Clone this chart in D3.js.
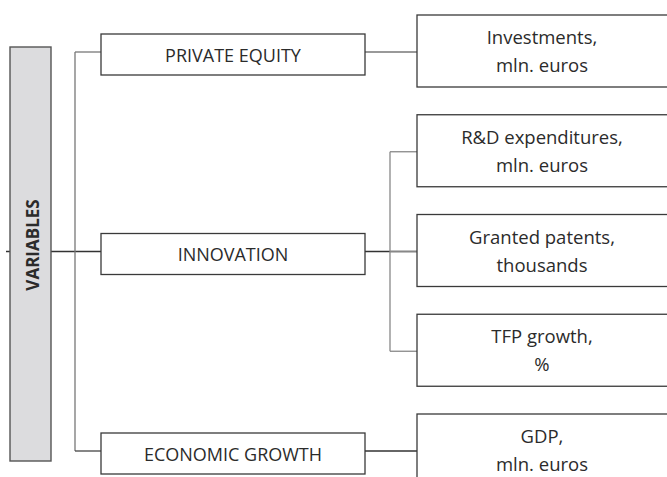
<!DOCTYPE html>
<meta charset="utf-8">
<body style="margin:0;background:#fff">
<script src="https://d3js.org/d3.v7.min.js"></script>
<script>

// diagram content
var rootLabel = 'VARIABLES';
var groups = ['PRIVATE EQUITY', 'INNOVATION', 'ECONOMIC GROWTH'];
var indicators = [
  ['Investments,', 'mln. euros'],
  ['R&D expenditures,', 'mln. euros'],
  ['Granted patents,', 'thousands'],
  ['TFP growth,', '%'],
  ['GDP,', 'mln. euros']
];
var indicatorGroup = [0, 1, 1, 1, 2];

var W = 667, H = 477;
var FONT = 'Open Sans, Lato, sans-serif';

var svg = d3.select('body').append('svg')
    .attr('width', W)
    .attr('height', H);

// rows of the right-hand boxes
var row = d3.scaleLinear().domain([0, indicators.length - 1]).range([15, 414]);
var rowH = 72;
var rowMid = i => row(i) + rowH / 2 + 1;

var root = {x: 10, y: 47, w: 41, h: 414};
var mid = {x: 101, w: 264, h: 41};
var leaf = {x: 417, w: 254};
var trunkX = 75, branchX = 390;

// y of each group's connector = centre of its middle indicator
var groupY = groups.map((g, gi) => {
  var rows = indicatorGroup.map((v, i) => v === gi ? i : -1).filter(i => i >= 0);
  return rowMid(rows[Math.floor(rows.length / 2)]);
});

var line = (x1, y1, x2, y2, c) => {
  svg.append('line')
    .attr('x1', x1).attr('y1', y1)
    .attr('x2', x2).attr('y2', y2)
    .attr('stroke', c || '#777')
    .attr('stroke-width', 1.3);
};

// connectors (drawn first so boxes sit on top)
line(6, groupY[1], mid.x, groupY[1], '#333');
line(trunkX, groupY[0], trunkX, groupY[2]);
line(trunkX, groupY[0], mid.x, groupY[0]);
line(trunkX, groupY[2], mid.x, groupY[2], '#444');

groups.forEach((g, gi) => {
  var rows = indicatorGroup.map((v, i) => v === gi ? i : -1).filter(i => i >= 0);
  line(mid.x + mid.w, groupY[gi], leaf.x, groupY[gi], gi === 0 ? '#777' : '#333');
  if (rows.length > 1) {
    var top = rowMid(rows[0]), bot = rowMid(rows[rows.length - 1]);
    line(branchX, top, branchX, bot, '#888');
    rows.forEach(r => line(branchX, rowMid(r), leaf.x, rowMid(r), '#888'));
  }
});

// root box
svg.append('rect')
  .attr('x', root.x).attr('y', root.y)
  .attr('width', root.w).attr('height', root.h)
  .attr('fill', '#dcdcde')
  .attr('stroke', '#555')
  .attr('stroke-width', 1.4);

svg.append('text')
  .text(rootLabel)
  .attr('transform', `translate(${root.x + root.w / 2 + 2},245) rotate(-90)`)
  .attr('text-anchor', 'middle')
  .attr('dominant-baseline', 'central')
  .attr('font-family', FONT)
  .attr('font-weight', 'bold')
  .attr('font-size', 17)
  .attr('fill', '#2b2b2b');

// group boxes
var gSel = svg.selectAll('g.group').data(groups).enter().append('g').attr('class', 'group');
gSel.append('rect')
  .attr('x', mid.x)
  .attr('y', (d, i) => groupY[i] - 18)
  .attr('width', mid.w).attr('height', mid.h)
  .attr('fill', '#fff')
  .attr('stroke', '#3a3a3a')
  .attr('stroke-width', 1.3);
gSel.append('text')
  .text(d => d)
  .attr('x', mid.x + mid.w / 2)
  .attr('y', (d, i) => groupY[i] + 2.5)
  .attr('text-anchor', 'middle')
  .attr('dominant-baseline', 'central')
  .attr('font-family', FONT)
  .attr('font-size', 18)
  .attr('fill', '#2b2b2b');

// indicator boxes
var lSel = svg.selectAll('g.leaf').data(indicators).enter().append('g').attr('class', 'leaf');
lSel.append('rect')
  .attr('x', leaf.x)
  .attr('y', (d, i) => row(i))
  .attr('width', leaf.w).attr('height', rowH)
  .attr('fill', '#fff')
  .attr('stroke', '#3a3a3a')
  .attr('stroke-width', 1.3);
lSel.each(function(d, i) {
  var t = d3.select(this).append('text')
    .attr('text-anchor', 'middle')
    .attr('font-family', FONT)
    .attr('font-size', 18.5)
    .attr('fill', '#2b2b2b');
  d.forEach((s, k) => {
    t.append('tspan')
      .attr('x', leaf.x + 125)
      .attr('y', row(i) + 29 + k * 28)
      .text(s);
  });
});

</script>
</body>
